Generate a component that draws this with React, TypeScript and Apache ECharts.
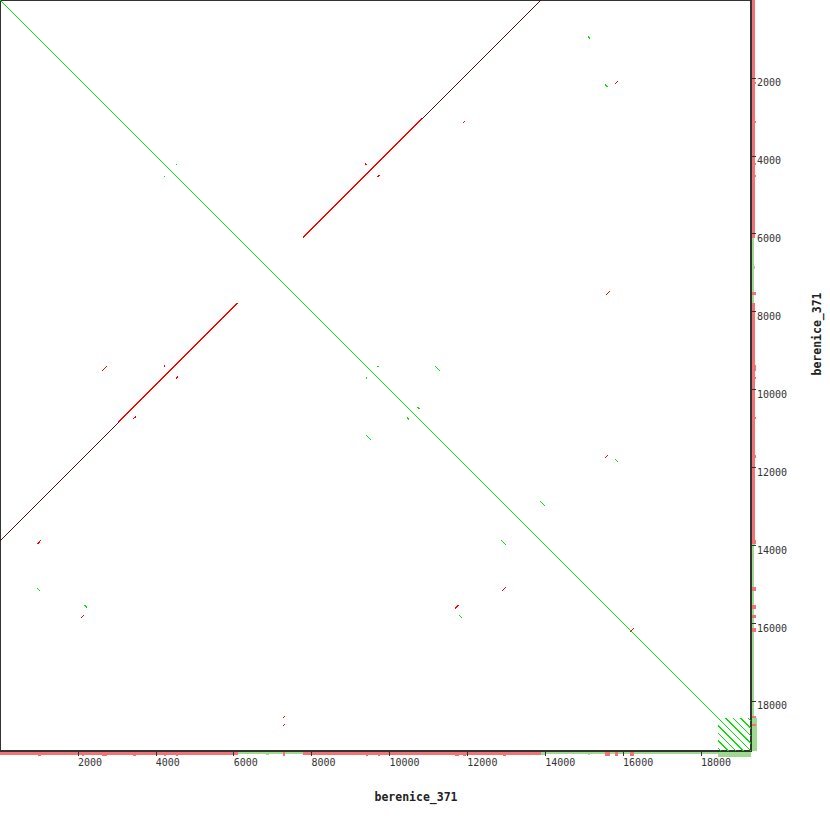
import React, { useEffect, useRef } from "react";
import * as echarts from "echarts";

// sequence length of berenice_371 (both axes: self comparison)
const SEQ_LEN = 19285;
const TICK_STEP = 2000;
const AXIS_NAME = "berenice_371";

// [x1, y1, x2, y2] in sequence coordinates
const selfDiagonal = [[0, 0, 19285, 19285]];

const inversionFaint = [
  [0, 13890, 3045, 10845],
  [10845, 3045, 13890, 0],
];
const inversionStrong = [
  [3045, 10845, 6101, 7789],
  [7789, 6101, 10845, 3045],
];

const forwardMatches = [
  [4509, 4201, 4553, 4245],
  [4201, 4509, 4245, 4553],
  [15097, 940, 15159, 1009],
  [939, 15089, 1017, 15166],
  [15526, 2172, 15621, 2241],
  [2172, 15526, 2241, 15621],
  [9690, 9395, 9740, 9400],
  [9395, 9690, 9400, 9740],
  [11160, 9388, 11306, 9534],
  [9388, 11160, 9534, 11306],
  [10698, 10441, 10775, 10510],
  [10441, 10698, 10510, 10775],
  [15783, 11776, 15860, 11853],
  [11776, 15783, 11853, 15860],
  [13856, 12855, 13985, 12983],
  [12855, 13856, 12983, 13985],
  [6835, 6835, 6895, 6895],
];

const tandemRepeats = [
  [18625, 18435, 19285, 19095],
  [18820, 18435, 19285, 18900],
  [19010, 18435, 19285, 18710],
  [19200, 18435, 19285, 18520],
  [18435, 18625, 19095, 19285],
  [18435, 18820, 18900, 19285],
  [18435, 19010, 18710, 19285],
  [18435, 19200, 18520, 19285],
];

const reverseMatches = [
  [9390, 4185, 9400, 4245],
  [9696, 4552, 9740, 4501],
  [2627, 9517, 2755, 9388],
  [4205, 9370, 4215, 9420],
  [4527, 9715, 4570, 9670],
  [3412, 10767, 3482, 10698],
  [11879, 3166, 11956, 3097],
  [15783, 2164, 15860, 2095],
  [15551, 7583, 15654, 7488],
  [965, 13967, 1060, 13857],
  [2095, 15860, 2164, 15783],
  [7257, 18446, 7308, 18394],
  [7257, 18651, 7308, 18600],
  [15526, 11769, 15628, 11674],
  [12906, 15166, 12983, 15082],
  [11674, 15628, 11776, 15526],
  [16168, 16237, 16270, 16134],
];

// coverage levels drawn in the side strips
const BASE_FORWARD = 1;
const BASE_REVERSE = 1.5;
const BUMP = 2;
const REPEAT_BUMP = 2.5;

const GREEN = "#00e600";
const RED = "#ff0000";
const DARK = "#4a1010";
const GREEN_COV = "#9fd98f";
const RED_COV = "#f27373";

const toLines = (list: number[][], width = 1, color?: string) =>
  list.map(([x1, y1, x2, y2]) => ({
    coords: [
      [x1, y1],
      [x2, y2],
    ],
    lineStyle: color ? { width, color } : { width },
  }));

// coverage intervals derived from the segments (x-range for bottom strip, y-range for right strip)
const spans = (list: number[][], depth: number, axis: "x" | "y") =>
  list.map(([x1, y1, x2, y2]) =>
    axis === "x"
      ? [Math.min(x1, x2), Math.max(x1, x2), depth]
      : [Math.min(y1, y2), Math.max(y1, y2), depth]
  );

const bottomRender = (color: string) => (params: any, api: any) => {
  const a = api.coord([api.value(0), 0]);
  const b = api.coord([api.value(1), api.value(2)]);
  const w = Math.max(b[0] - a[0], 2);
  return {
    type: "rect",
    shape: { x: a[0], y: a[1], width: w, height: b[1] - a[1] },
    style: { fill: color },
  };
};
const rightRender = (color: string) => (params: any, api: any) => {
  const a = api.coord([0, api.value(0)]);
  const b = api.coord([api.value(2), api.value(1)]);
  const h = Math.max(b[1] - a[1], 2);
  return {
    type: "rect",
    shape: { x: a[0], y: a[1], width: b[0] - a[0], height: h },
    style: { fill: color },
  };
};

export default function App() {
  const ref = useRef<HTMLDivElement>(null);
  useEffect(() => {
    if (!ref.current) return;
    const chart = echarts.init(ref.current, undefined, { renderer: "svg" });
    const inversionAll = [...inversionFaint, ...inversionStrong];
    const fwdBottom = [
      [0, SEQ_LEN, BASE_FORWARD],
      ...spans(forwardMatches, BUMP - 0.3, "x"),
      [18435, SEQ_LEN, REPEAT_BUMP],
    ];
    const revBottom = [
      ...spans(inversionAll, BASE_REVERSE, "x"),
      ...spans(reverseMatches, BUMP, "x"),
    ];
    const fwdRight = [
      [0, SEQ_LEN, BASE_FORWARD],
      ...spans(forwardMatches, BUMP - 0.3, "y"),
      [18435, SEQ_LEN, REPEAT_BUMP],
    ];
    const revRight = [
      ...spans(inversionAll, BASE_REVERSE, "y"),
      ...spans(reverseMatches, BUMP, "y"),
    ];

    const labelStyle = {
      fontFamily: "DejaVu Sans Mono",
      fontSize: 10,
      color: "#333",
      showMinLabel: false,
      showMaxLabel: false,
      formatter: (v: number) => String(v),
    };

    chart.setOption({
      animation: false,
      backgroundColor: "#fff",
      grid: [
        { left: 0, top: 0, width: 751, height: 751, show: true, borderColor: "#333", borderWidth: 2, backgroundColor: "#fff" },
        { left: 0, top: 752, width: 751, height: 8 },
        { left: 752, top: 0, width: 8, height: 751 },
      ],
      xAxis: [
        {
          gridIndex: 0,
          type: "value",
          min: 0,
          max: SEQ_LEN,
          interval: TICK_STEP,
          position: "bottom",
          z: 10,
          axisLine: { show: false, onZero: false },
          axisTick: { show: true, length: 5, lineStyle: { color: "#333" } },
          axisLabel: { ...labelStyle, align: "left", margin: 6 },
          splitLine: { show: false },
        },
        { gridIndex: 1, type: "value", min: 0, max: SEQ_LEN, show: false },
        { gridIndex: 2, type: "value", min: 0, max: 4, show: false },
      ],
      yAxis: [
        {
          gridIndex: 0,
          type: "value",
          min: 0,
          max: SEQ_LEN,
          interval: TICK_STEP,
          inverse: true,
          position: "right",
          z: 10,
          axisLine: { show: false, onZero: false },
          axisTick: { show: true, length: 5, lineStyle: { color: "#333" } },
          axisLabel: { ...labelStyle, align: "left", verticalAlign: "top", margin: 6 },
          splitLine: { show: false },
        },
        { gridIndex: 1, type: "value", min: 0, max: 4, inverse: true, show: false },
        { gridIndex: 2, type: "value", min: 0, max: SEQ_LEN, inverse: true, show: false },
      ],
      series: [
        { type: "custom", z: 1, xAxisIndex: 1, yAxisIndex: 1, renderItem: bottomRender(GREEN_COV), data: fwdBottom, silent: true },
        { type: "custom", z: 1, xAxisIndex: 1, yAxisIndex: 1, renderItem: bottomRender(RED_COV), data: revBottom, silent: true },
        { type: "custom", z: 1, xAxisIndex: 2, yAxisIndex: 2, renderItem: rightRender(GREEN_COV), data: fwdRight, silent: true },
        { type: "custom", z: 1, xAxisIndex: 2, yAxisIndex: 2, renderItem: rightRender(RED_COV), data: revRight, silent: true },
        {
          type: "lines",
          coordinateSystem: "cartesian2d",
          xAxisIndex: 0,
          yAxisIndex: 0,
          lineStyle: { color: GREEN, width: 1, opacity: 1 },
          data: [...toLines(selfDiagonal), ...toLines(tandemRepeats), ...toLines(forwardMatches, 1.2)],
          silent: true,
        },
        {
          type: "lines",
          coordinateSystem: "cartesian2d",
          xAxisIndex: 0,
          yAxisIndex: 0,
          lineStyle: { color: RED, width: 1, opacity: 1 },
          data: [
            ...toLines(inversionFaint, 1, DARK),
            ...toLines(inversionStrong, 1.5),
            ...toLines(reverseMatches, 1.2),
          ],
          silent: true,
        },
      ],
      graphic: [
        {
          type: "text",
          x: 416,
          y: 797,
          style: {
            text: AXIS_NAME,
            font: 'bold 11.5px "DejaVu Sans Mono"',
            fill: "#222",
            textAlign: "center",
            textVerticalAlign: "middle",
          },
        },
        {
          type: "text",
          x: 817,
          y: 334,
          rotation: Math.PI / 2,
          style: {
            text: AXIS_NAME,
            font: 'bold 11.5px "DejaVu Sans Mono"',
            fill: "#222",
            textAlign: "center",
            textVerticalAlign: "middle",
          },
        },
      ],
    });
    return () => chart.dispose();
  }, []);

  return (
    <>
      <style>{`body{margin:0} #root svg path{shape-rendering:crispEdges}`}</style>
      <div ref={ref} style={{ width: 830, height: 830 }} />
    </>
  );
}
